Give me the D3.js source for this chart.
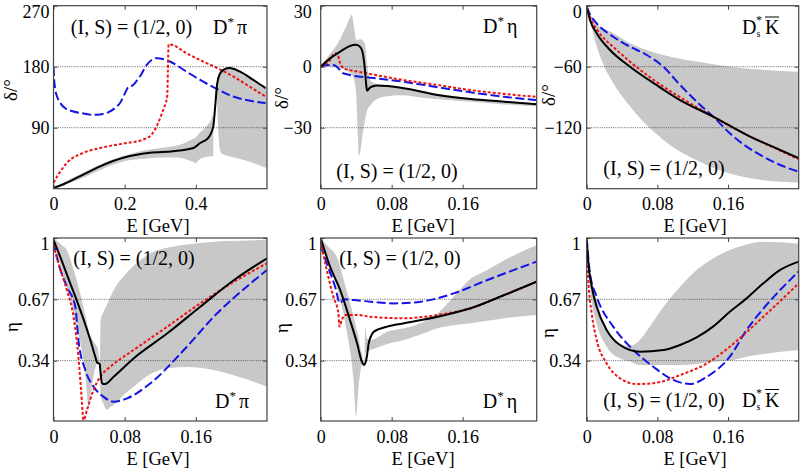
<!DOCTYPE html>
<html>
<head>
<meta charset="utf-8">
<script src="https://cdn.jsdelivr.net/npm/d3@7"></script>
<style>
  body { margin: 0; background: #fff; }
  svg, svg text { font-family: "Liberation Serif", "DejaVu Serif", serif; }
</style>
</head>
<body>
<script>
// ---- phase shifts delta [deg] vs E [GeV] ----
// D* pi
const dpiDeltaSolid = [[0,1],[0.03,7],[0.075,18.5],[0.131,33],[0.196,45.6],[0.271,53],[0.336,55.3],[0.393,60],[0.411,67],[0.435,75],[0.449,92],[0.455,125],[0.46,155],[0.468,170],[0.48,176],[0.495,178],[0.523,173],[0.56,161],[0.596,148.5]];
const dpiDeltaRed = [[0,8.8],[0.015,22],[0.0376,38],[0.084,53],[0.131,60],[0.196,66.6],[0.252,72.5],[0.276,80],[0.294,97],[0.308,116],[0.315,126],[0.3195,136],[0.3215,175],[0.3235,213],[0.336,212],[0.37,201],[0.411,190],[0.46,178],[0.505,165.6],[0.55,151],[0.596,136]];
const dpiDeltaBlue = [[0,180],[0.002,160],[0.005,146],[0.01,136],[0.019,126.5],[0.035,118],[0.056,114],[0.085,111],[0.112,109],[0.135,110],[0.159,114],[0.175,120],[0.187,126.5],[0.201,141],[0.21,150],[0.224,153],[0.235,160],[0.243,165.6],[0.262,182.8],[0.29,192.6],[0.327,187.7],[0.37,174],[0.411,160.8],[0.46,147],[0.505,136],[0.55,130],[0.596,126.5]];
const dpiDeltaBand = [[0,0,2],[0.05,9,15],[0.1,20,28],[0.15,32,40],[0.2,41,49],[0.25,44,56],[0.3,46,60],[0.35,46,64],[0.39,40,73],[0.4,38,76],[0.41,43,82],[0.43,47,92],[0.445,48,105],[0.449,48,112],[0.4495,118,118],[0.458,148,148],[0.46,125,156],[0.463,85,162],[0.467,60,168],[0.472,52,173],[0.48,50,177],[0.5,47,179],[0.55,40,164],[0.6,30,148]];
// D* eta
const detaDeltaSolid = [[0,0],[0.0105,4.1],[0.022,7.4],[0.033,10.2],[0.039,10.8],[0.043,10.3],[0.0465,8.2],[0.0495,0],[0.051,-7.4],[0.0522,-11.8],[0.056,-10.1],[0.0635,-9.3],[0.0937,-10.6],[0.1316,-13.9],[0.169,-15.9],[0.207,-17.2],[0.2435,-18.5]];
const detaDeltaRed = [[0,0],[0.0105,3.3],[0.016,6.6],[0.019,6.4],[0.021,3],[0.0235,0.3],[0.0257,-0.8],[0.037,-2],[0.056,-3.6],[0.0937,-6.6],[0.1316,-9],[0.169,-11.5],[0.207,-13.4],[0.2435,-14.8]];
const detaDeltaBlue = [[0,0],[0.0068,0.8],[0.0143,0.8],[0.02,-0.8],[0.0238,-2.9],[0.0332,-4.1],[0.056,-5.4],[0.0937,-7.4],[0.1316,-10.1],[0.169,-12.6],[0.207,-14.8],[0.2435,-16.4]];
const detaDeltaBand = [[0,0,0],[0.01,0,6],[0.02,-0.5,12],[0.03,-2,21],[0.035,-4,25.4],[0.038,-7,18],[0.04,-14,13],[0.042,-35,13],[0.043,-44,13.5],[0.0445,-42,13.5],[0.047,-34,13],[0.05,-26,11],[0.052,-22,2],[0.056,-19,-6.5],[0.063,-16,-8.5],[0.075,-14.5,-9.5],[0.09,-14,-10],[0.12,-15.5,-12.5],[0.16,-17,-15],[0.2,-18.3,-16.8],[0.2435,-19.5,-18]];
// Ds* Kbar
const dskDeltaSolid = [[0,-1],[0.0037,-14],[0.0113,-27],[0.0264,-43.6],[0.049,-60],[0.079,-78],[0.1057,-92.8],[0.143,-109],[0.181,-127],[0.219,-141.9],[0.24,-150]];
const dskDeltaRed = [[0,-1],[0.004,-12],[0.0113,-23],[0.034,-43.6],[0.049,-55],[0.079,-75],[0.1057,-90],[0.143,-109],[0.181,-127],[0.219,-142.5],[0.24,-151]];
const dskDeltaBlue = [[0,-1],[0.004,-9],[0.0113,-17.4],[0.03,-30.5],[0.049,-40.3],[0.068,-48.5],[0.0867,-60],[0.1057,-78],[0.1245,-94.4],[0.143,-109],[0.162,-125.5],[0.181,-138.6],[0.2,-148.5],[0.219,-156.7],[0.24,-163.3]];
const dskDeltaBand = [[0,0,0],[0.002,-7.5,-4],[0.0113,-40,-18],[0.02,-60,-23],[0.03,-76,-27],[0.049,-99,-37],[0.0867,-132,-48.5],[0.1245,-152,-55],[0.162,-165,-60],[0.2,-171.7,-63],[0.24,-174,-65]];

// ---- inelasticities eta vs E [GeV] ----
const dpiEtaSolid = [[0,0.99],[0.0075,0.9],[0.0188,0.756],[0.026,0.666],[0.034,0.559],[0.0414,0.451],[0.047,0.361],[0.049,0.33],[0.052,0.322],[0.0526,0.29],[0.0545,0.218],[0.058,0.214],[0.0676,0.253],[0.09,0.352],[0.128,0.487],[0.165,0.63],[0.203,0.774],[0.24,0.891]];
const dpiEtaRed = [[0,0.962],[0.0056,0.864],[0.015,0.72],[0.0225,0.576],[0.028,0.361],[0.031,0.182],[0.0338,0.02],[0.0376,0.074],[0.045,0.182],[0.0526,0.253],[0.0639,0.307],[0.09,0.397],[0.128,0.523],[0.165,0.648],[0.203,0.765],[0.24,0.864]];
const dpiEtaBlue = [[0,0.98],[0.0056,0.864],[0.015,0.738],[0.0245,0.63],[0.028,0.451],[0.0357,0.29],[0.045,0.2],[0.056,0.146],[0.0676,0.119],[0.0827,0.137],[0.109,0.218],[0.1465,0.397],[0.184,0.595],[0.2216,0.756],[0.24,0.828]];
const dpiEtaBand = [[0,1,1],[0.005,0.9,0.98],[0.01,0.82,0.96],[0.015,0.74,0.935],[0.02,0.65,0.87],[0.026,0.52,0.774],[0.03,0.44,0.7],[0.036,0.25,0.58],[0.0395,0.09,0.5],[0.043,0.2,0.46],[0.047,0.3,0.43],[0.05,0.33,0.4],[0.052,0.32,0.33],[0.053,0.15,0.56],[0.056,0.11,0.6],[0.06,0.074,0.64],[0.064,0.09,0.684],[0.07,0.11,0.74],[0.08,0.16,0.8],[0.09,0.2,0.85],[0.11,0.27,0.92],[0.13,0.3,0.95],[0.15,0.305,0.965],[0.18,0.29,0.98],[0.21,0.25,0.985],[0.24,0.2,0.99]];
const detaEtaSolid = [[0,1],[0.0105,0.846],[0.022,0.72],[0.033,0.559],[0.041,0.433],[0.0465,0.334],[0.049,0.316],[0.0505,0.33],[0.052,0.361],[0.054,0.43],[0.057,0.475],[0.06,0.496],[0.075,0.523],[0.094,0.541],[0.1316,0.576],[0.169,0.622],[0.207,0.693],[0.2435,0.765]];
const detaEtaRed = [[0,0.98],[0.0068,0.828],[0.0143,0.684],[0.02,0.594],[0.021,0.523],[0.0238,0.559],[0.0276,0.586],[0.041,0.586],[0.056,0.576],[0.094,0.568],[0.1316,0.586],[0.169,0.622],[0.207,0.693],[0.2435,0.765]];
const detaEtaBlue = [[0,0.96],[0.0068,0.864],[0.0162,0.738],[0.022,0.648],[0.0257,0.67],[0.037,0.666],[0.056,0.657],[0.0824,0.648],[0.1125,0.657],[0.15,0.702],[0.188,0.774],[0.2435,0.873]];
const detaEtaBand = [[0,1,1],[0.009,0.85,0.95],[0.018,0.738,0.9],[0.029,0.506,0.72],[0.037,0.236,0.58],[0.04,0.04,0.52],[0.0426,0.2,0.47],[0.0445,0.27,0.415],[0.0465,0.32,0.38],[0.049,0.31,0.32],[0.0502,0.38,0.52],[0.052,0.39,0.46],[0.056,0.397,0.451],[0.075,0.43,0.496],[0.094,0.451,0.514],[0.1125,0.48,0.541],[0.1316,0.514,0.594],[0.15,0.53,0.684],[0.169,0.541,0.78],[0.188,0.555,0.828],[0.207,0.568,0.88],[0.2435,0.586,0.962]];
const dskEtaSolid = [[0,1],[0.0019,0.864],[0.0057,0.738],[0.0113,0.63],[0.0226,0.505],[0.0377,0.424],[0.06,0.388],[0.087,0.397],[0.1057,0.424],[0.1245,0.465],[0.143,0.523],[0.162,0.603],[0.181,0.675],[0.2,0.756],[0.219,0.828],[0.24,0.873]];
const dskEtaRed = [[0,0.99],[0.0019,0.774],[0.0057,0.594],[0.0113,0.451],[0.0226,0.325],[0.0377,0.245],[0.0566,0.214],[0.079,0.221],[0.1057,0.262],[0.136,0.325],[0.162,0.415],[0.2,0.576],[0.24,0.756]];
const dskEtaBlue = [[0,1],[0.0037,0.81],[0.0113,0.684],[0.03,0.523],[0.049,0.415],[0.0754,0.307],[0.098,0.236],[0.117,0.214],[0.136,0.253],[0.162,0.361],[0.181,0.505],[0.2,0.62],[0.219,0.72],[0.24,0.82]];
const dskEtaBand = [[0,1,1],[0.0037,0.74,0.83],[0.0113,0.541,0.67],[0.0226,0.415,0.5],[0.0377,0.352,0.43],[0.049,0.335,0.42],[0.06,0.316,0.45],[0.068,0.316,0.5],[0.087,0.316,0.63],[0.1057,0.316,0.738],[0.1245,0.322,0.828],[0.143,0.334,0.89],[0.162,0.34,0.935],[0.181,0.361,0.965],[0.2,0.375,0.98],[0.24,0.397,0.97]];

// ---- axis ranges and tick labels ----
const dpiDeltaX = [0, 0.6];
const narrowX = [0, 0.24];
const detaX = [0, 0.2435];
const dpiDeltaXTicks = [0, 0.2, 0.4];
const narrowXTicks = [0, 0.08, 0.16];
const dpiDeltaY = [0, 270], dpiDeltaYTicks = [90, 180, 270];
const detaDeltaY = [-60, 30], detaDeltaYTicks = [-30, 0, 30];
const dskDeltaY = [-180, 0], dskDeltaYTicks = [-120, -60, 0];
const etaY = [0.015, 1], etaYTicks = [0.34, 0.67, 1];
const etaTickLabels = {0.34: '0.34', 0.67: '0.67', 1: '1'};
const stateText = '(I, S) = (1/2, 0)';

const serif = '"Liberation Serif", "DejaVu Serif", serif';

const svg = d3.select('body').append('svg')
  .attr('width', 806).attr('height', 470)
  .attr('font-family', serif);

// plot boxes
const cols = [{l: 53.5, r: 267}, {l: 320.7, r: 536.7}, {l: 586.7, r: 798.7}];
const rows = [{t: 5.7, b: 188.7}, {t: 238, b: 421}];

let clipCount = 0;

function drawPanel(p) {
  const box = {l: cols[p.col].l, r: cols[p.col].r, t: rows[p.row].t, b: rows[p.row].b};
  const x = d3.scaleLinear().domain(p.xDomain).range([box.l, box.r]);
  const y = d3.scaleLinear().domain(p.yDomain).range([box.b, box.t]);
  const g = svg.append('g');

  const id = 'clip' + (clipCount++);
  g.append('clipPath').attr('id', id).append('rect')
    .attr('x', box.l).attr('y', box.t)
    .attr('width', box.r - box.l).attr('height', box.b - box.t);
  const plot = g.append('g').attr('clip-path', `url(#${id})`);

  // error band
  plot.append('path').datum(p.band)
    .attr('fill', '#c8c8c8')
    .attr('d', d3.area()
      .x(d => x(d[0])).y0(d => y(d[1])).y1(d => y(d[2]))
      .curve(d3.curveMonotoneX));

  // dotted grid lines
  p.grid.forEach(v => {
    plot.append('line')
      .attr('x1', box.l).attr('x2', box.r)
      .attr('y1', y(v)).attr('y2', y(v))
      .attr('stroke', '#444').attr('stroke-width', 0.8)
      .attr('stroke-dasharray', '1,1.2');
  });

  const line = d3.line().x(d => x(d[0])).y(d => y(d[1])).curve(d3.curveMonotoneX);
  plot.append('path').datum(p.blue)
    .attr('fill', 'none').attr('stroke', '#1414e6').attr('stroke-width', 2)
    .attr('stroke-dasharray', '9,3.5').attr('d', line);
  plot.append('path').datum(p.red)
    .attr('fill', 'none').attr('stroke', '#ee1414').attr('stroke-width', 2)
    .attr('stroke-dasharray', '3,2').attr('d', line);
  plot.append('path').datum(p.solid)
    .attr('fill', 'none').attr('stroke', '#000').attr('stroke-width', 2)
    .attr('d', line);

  // axes (ticks pointing inward)
  g.append('g').attr('transform', `translate(0,${box.b})`)
    .call(d3.axisBottom(x).tickValues(p.xTicks).tickSize(-4).tickPadding(9)
      .tickFormat(d => String(d)));
  g.append('g').attr('transform', `translate(0,${box.t})`)
    .call(d3.axisTop(x).tickValues(p.xTicks).tickSize(-4).tickFormat(''));
  const yl = g.append('g').attr('transform', `translate(${box.l},0)`)
    .call(d3.axisLeft(y).tickValues(p.yTicks).tickSize(-4).tickPadding(p.yPad)
      .tickFormat(p.yFormat));
  g.append('g').attr('transform', `translate(${box.r},0)`)
    .call(d3.axisRight(y).tickValues(p.yTicks).tickSize(-4).tickFormat(''));

  g.selectAll('g').attr('font-family', serif).attr('font-size', 18);
  g.selectAll('.domain').remove();
  g.selectAll('.tick line').attr('stroke', '#444');
  g.selectAll('.tick text').attr('fill', '#000');
  // top label sits just below the frame edge
  yl.selectAll('.tick').filter(d => d === p.yDomain[1]).select('text').attr('y', 6);

  // frame
  g.append('rect')
    .attr('x', box.l).attr('y', box.t)
    .attr('width', box.r - box.l).attr('height', box.b - box.t)
    .attr('fill', 'none').attr('stroke', '#444').attr('stroke-width', 1.2);

  // axis titles
  g.append('text')
    .attr('x', p.xLabelX).attr('y', box.b + 43.5)
    .attr('text-anchor', 'middle').attr('font-size', 18.5)
    .text('E [GeV]');
  g.append('text')
    .attr('transform', `translate(${p.yLabel[0]},${p.yLabel[1]}) rotate(-90)`)
    .attr('text-anchor', 'middle').attr('dominant-baseline', 'central')
    .attr('font-size', 19)
    .text(p.yTitle);

  // state label
  g.append('text')
    .attr('x', p.state[0]).attr('y', p.state[1])
    .attr('text-anchor', 'middle').attr('font-size', 20)
    .text(stateText);

  channelLabel(g, p.chan[0], p.chan[1], p.channel);
}

function channelLabel(g, x, y, kind) {
  g.append('text').attr('x', x).attr('y', y).attr('font-size', 20).text('D');
  if (kind === 'DsK') {
    g.append('text').attr('x', x + 14).attr('y', y - 10).attr('font-size', 12).text('*');
    g.append('text').attr('x', x + 14.5).attr('y', y + 3).attr('font-size', 10).text('s');
    g.append('text').attr('x', x + 23).attr('y', y).attr('font-size', 20).text('K');
    g.append('line')
      .attr('x1', x + 23).attr('x2', x + 37)
      .attr('y1', y - 17).attr('y2', y - 17)
      .attr('stroke', '#000').attr('stroke-width', 1);
  } else {
    g.append('text').attr('x', x + 14.5).attr('y', y - 8).attr('font-size', 13).text('*');
    g.append('text').attr('x', x + 24).attr('y', y).attr('font-size', 20)
      .text(kind === 'Dpi' ? 'π' : 'η');
  }
}

const numFmt = d => String(d).replace('-', '\u2212');

drawPanel({row: 0, col: 0, xDomain: dpiDeltaX, xTicks: dpiDeltaXTicks, yDomain: dpiDeltaY,
  yTicks: dpiDeltaYTicks, yFormat: numFmt, yPad: 4, grid: [90, 180],
  band: dpiDeltaBand, solid: dpiDeltaSolid, red: dpiDeltaRed, blue: dpiDeltaBlue,
  xLabelX: 158, yLabel: [10, 90], yTitle: 'δ/°',
  state: [131.5, 34], chan: [213, 34], channel: 'Dpi'});
drawPanel({row: 0, col: 1, xDomain: detaX, xTicks: narrowXTicks, yDomain: detaDeltaY,
  yTicks: detaDeltaYTicks, yFormat: numFmt, yPad: 9, grid: [-30, 0],
  band: detaDeltaBand, solid: detaDeltaSolid, red: detaDeltaRed, blue: detaDeltaBlue,
  xLabelX: 423, yLabel: [281.5, 98], yTitle: 'δ/°',
  state: [397, 178], chan: [483, 33], channel: 'Deta'});
drawPanel({row: 0, col: 2, xDomain: narrowX, xTicks: narrowXTicks, yDomain: dskDeltaY,
  yTicks: dskDeltaYTicks, yFormat: numFmt, yPad: 5, grid: [-120, -60],
  band: dskDeltaBand, solid: dskDeltaSolid, red: dskDeltaRed, blue: dskDeltaBlue,
  xLabelX: 695, yLabel: [548, 95], yTitle: 'δ/°',
  state: [664, 175], chan: [742, 34], channel: 'DsK'});

drawPanel({row: 1, col: 0, xDomain: narrowX, xTicks: narrowXTicks, yDomain: etaY,
  yTicks: etaYTicks, yFormat: d => etaTickLabels[d], yPad: 4, grid: [0.34, 0.67],
  band: dpiEtaBand, solid: dpiEtaSolid, red: dpiEtaRed, blue: dpiEtaBlue,
  xLabelX: 158, yLabel: [11, 327], yTitle: 'η',
  state: [134, 265], chan: [215, 408], channel: 'Dpi'});
drawPanel({row: 1, col: 1, xDomain: detaX, xTicks: narrowXTicks, yDomain: etaY,
  yTicks: etaYTicks, yFormat: d => etaTickLabels[d], yPad: 4, grid: [0.34, 0.67],
  band: detaEtaBand, solid: detaEtaSolid, red: detaEtaRed, blue: detaEtaBlue,
  xLabelX: 423, yLabel: [281.5, 328], yTitle: 'η',
  state: [400, 265], chan: [482.7, 408], channel: 'Deta'});
drawPanel({row: 1, col: 2, xDomain: narrowX, xTicks: narrowXTicks, yDomain: etaY,
  yTicks: etaYTicks, yFormat: d => etaTickLabels[d], yPad: 6, grid: [0.34, 0.67],
  band: dskEtaBand, solid: dskEtaSolid, red: dskEtaRed, blue: dskEtaBlue,
  xLabelX: 695, yLabel: [547, 333], yTitle: 'η',
  state: [664, 406.5], chan: [742, 406.5], channel: 'DsK'});
</script>
</body>
</html>
